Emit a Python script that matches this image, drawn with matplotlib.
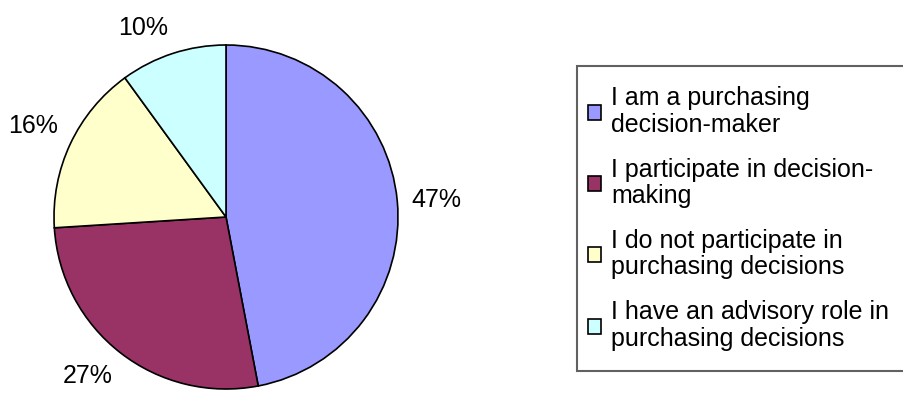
import numpy as np
import matplotlib.pyplot as plt

plt.rcParams['font.family'] = ['Liberation Sans', 'DejaVu Sans']

# data
labels = [
    "I am a purchasing\ndecision-maker",
    "I participate in decision-\nmaking",
    "I do not participate in\npurchasing decisions",
    "I have an advisory role in\npurchasing decisions",
]
shares = [47, 27, 16, 10]
colors = ["#9999FF", "#993366", "#FFFFCC", "#CCFFFF"]

fig = plt.figure(figsize=(9.04, 3.94), dpi=100)
ax = fig.add_axes([54 / 904, 5 / 394, 344 / 904, 344 / 394])

wedges, _ = ax.pie(shares, colors=colors, startangle=90, counterclock=False,
                   radius=1, wedgeprops=dict(edgecolor="black", linewidth=1.2))
ax.set_xlim(-1, 1)
ax.set_ylim(-1, 1)
ax.set_aspect("equal")
ax.axis("off")

# percentage labels outside, anchored by the side facing the pie
dist = 1.08
for w, v in zip(wedges, shares):
    ang = np.deg2rad((w.theta1 + w.theta2) / 2)
    c, s = np.cos(ang), np.sin(ang)
    ha = "left" if c > 0.3 else ("right" if c < -0.3 else "center")
    va = "bottom" if s > 0.3 else ("top" if s < -0.3 else "center")
    ax.text(dist * c, dist * s, f"{v}%", ha=ha, va=va, fontsize=18,
            clip_on=False)

# legend box runs off the right edge of the picture, like the original
leg = fig.legend(wedges, labels, loc="upper left", mode="expand",
                 bbox_to_anchor=(577 / 904, 1 - 76 / 394, 330 / 904, 0),
                 fontsize=18, frameon=True, fancybox=False,
                 handlelength=0.55, handleheight=0.55, handletextpad=0.4,
                 labelspacing=0.83, borderpad=0.42, borderaxespad=0)
frame = leg.get_frame()
frame.set_edgecolor("#3a3a3a")
frame.set_linewidth(1.5)
# extra padding only in the vertical direction
frame.set_boxstyle("square", pad=0.01)
frame.set_mutation_aspect(40)
for h in leg.legend_handles:
    h.set_edgecolor("black")
    h.set_linewidth(1.2)
for t in leg.get_texts():
    t.set_linespacing(1.13)

fig.savefig("out.png", dpi=100)
